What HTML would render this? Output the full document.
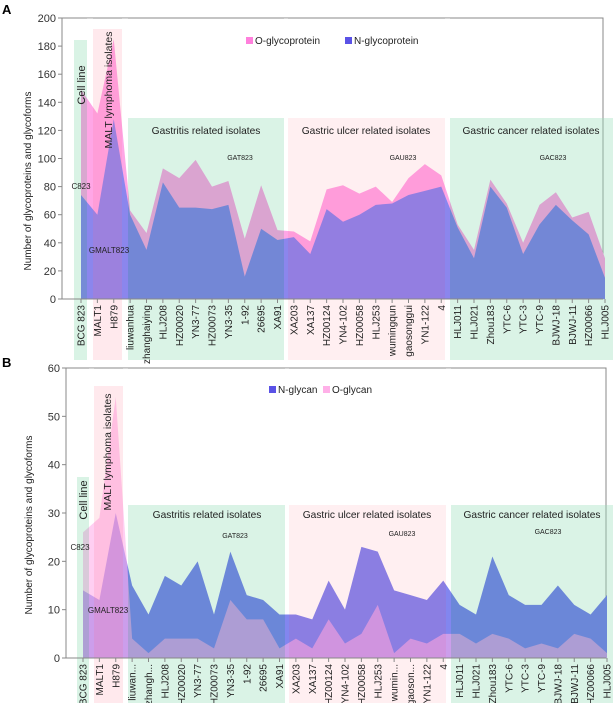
<!DOCTYPE html>
<html><head><meta charset="utf-8"><style>
html,body{margin:0;padding:0;background:#fff;}
svg{display:block;font-family:"Liberation Sans",sans-serif;}
</style></head><body>
<svg id="chart" width="613" height="703" viewBox="0 0 613 703" xmlns="http://www.w3.org/2000/svg"></svg>
<script>
const categories=["BCG 823","MALT1","H879","liuwanhua","zhanghaiying","HLJ208","HZ00020","YN3-77","HZ00073","YN3-35","1-92","26695","XA91","XA203","XA137","HZ00124","YN4-102","HZ00058","HLJ253","wumingqun","gaosonggui","YN1-122","4","HLJ011","HLJ021","Zhou183","YTC-6","YTC-3","YTC-9","BJWJ-18","BJWJ-11","HZ00066","HLJ005"];
const categoriesB=["BCG 823","MALT1","H879","liuwan...","zhangh...","HLJ208","HZ00020","YN3-77","HZ00073","YN3-35","1-92","26695","XA91","XA203","XA137","HZ00124","YN4-102","HZ00058","HLJ253","wumin...","gaoson...","YN1-122","4","HLJ011","HLJ021","Zhou183","YTC-6","YTC-3","YTC-9","BJWJ-18","BJWJ-11","HZ00066","HLJ005"];
const oGlycoprotein=[149,132,185,63,47,93,86,99,80,84,43,81,49,48,41,78,81,75,80,69,86,96,88,53,35,85,68,40,67,76,58,62,29];
const nGlycoprotein=[74,60,128,60,35,83,65,65,64,67,16,50,42,44,32,64,55,60,67,68,74,77,80,51,29,80,65,32,53,67,56,46,15];
const nGlycan=[14,12,30,15,9,17,15,20,9,22,13,12,9,9,8,16,10,23,22,14,13,12,16,11,9,21,13,11,11,15,11,9,13];
const oGlycan=[26,29,54,4,1,4,4,4,2,12,8,8,2,4,2,8,3,5,11,1,4,3,5,5,3,5,4,2,3,2,5,4,1];
const ticksA=[0,20,40,60,80,100,120,140,160,180,200];
const ticksB=[0,10,20,30,40,50,60];

const svg=document.getElementById('chart');
const NS='http://www.w3.org/2000/svg';
function mk(tag,attrs,parent,text){const e=document.createElementNS(NS,tag);for(const k in attrs)e.setAttribute(k,attrs[k]);if(text!==undefined)e.textContent=text;(parent||svg).appendChild(e);return e;}

function panel(cfg){
  const g=mk('g',{});
  
  
  const x=i=>cfg.x0+i*cfg.dx;
  const y=v=>cfg.yb-(v/cfg.ymax)*(cfg.yb-cfg.yt);
  const fr=mk('rect',{x:cfg.left,y:cfg.yt,width:cfg.right-cfg.left,height:cfg.yb-cfg.yt,fill:'none',stroke:'#888','stroke-width':1},g);
  
  
  function area(vals,color,op,name){
    let d='M'+x(0)+','+y(0);
    vals.forEach((v,i)=>{d+=' L'+x(i)+','+y(v);});
    d+=' L'+x(vals.length-1)+','+y(0)+' Z';
    const p=mk('path',{d:d,fill:color,'fill-opacity':op},g);
    
    
  }
  cfg.series.forEach(s=>area(s.vals,s.color,s.op,s.name));
  cfg.bands.forEach(b=>{
    const r=mk('rect',{x:b[0],y:b[2],width:b[1]-b[0],height:cfg.bandBottom-b[2],fill:b[3],'fill-opacity':b[4]},g);
    
    
  });
  // soften gaps between bands so they match band lightness
  for(let k=0;k<cfg.bands.length-1;k++){
    const a=cfg.bands[k],b=cfg.bands[k+1];
    const gr=mk('rect',{x:a[1],y:cfg.yt,width:b[0]-a[1],height:cfg.yb-cfg.yt,fill:'#fff','fill-opacity':0.3},g);
    
    
  }
  const ax=mk('line',{x1:cfg.left,y1:cfg.yt,x2:cfg.left,y2:cfg.yb,stroke:'#888'},g);
  
  
  mk('line',{x1:cfg.left,y1:cfg.yb,x2:cfg.right,y2:cfg.yb,stroke:'#888'},g);
  cfg.ticks.forEach(t=>{
    mk('line',{x1:cfg.left-4,y1:y(t),x2:cfg.left,y2:y(t),stroke:'#888'},g);
    const tl=mk('text',{x:cfg.left-6,y:y(t)+4,'text-anchor':'end','font-size':11,fill:'#333'},g,String(t));
    
    
  });
  cfg.cats.forEach((c,i)=>{
    mk('line',{x1:x(i),y1:cfg.yb,x2:x(i),y2:cfg.yb+4,stroke:'#888'},g);
    const t=mk('text',{x:0,y:0,transform:'translate('+(x(i)+3.5)+','+(cfg.yb+6)+') rotate(-90)','text-anchor':'end','font-size':10,fill:'#222'},g,c);
    
    
  });
  return g;
}

panel({name:'panel-a',x0:81,dx:16.375,yt:18,yb:299,ymax:200,left:62,right:603,bandBottom:360,cats:categories,ticks:ticksA,
  series:[{vals:oGlycoprotein,color:'#ff80dc',op:1,name:'o-glycoprotein-area'},{vals:nGlycoprotein,color:'#5a52e6',op:1,name:'n-glycoprotein-area'}],
  bands:[[74,87,40,'#9fe0bd',0.4,'cell-line-band'],[93,122,29,'#ffc8d2',0.4,'malt-band'],[128,284,118,'#9fe0bd',0.38,'gastritis-band'],[288,445,118,'#ffd0d8',0.35,'ulcer-band'],[450,613,118,'#9fe0bd',0.38,'cancer-band']]});
panel({name:'panel-b',x0:83,dx:16.375,yt:368,yb:658,ymax:60,left:66,right:606,bandBottom:703,cats:categoriesB,ticks:ticksB,
  series:[{vals:nGlycan,color:'#4d52e8',op:1,name:'n-glycan-area'},{vals:oGlycan,color:'#ff8ce0',op:0.6,name:'o-glycan-area'}],
  bands:[[77,89,477,'#9fe0bd',0.4,'cell-line-band'],[94,123,386,'#ffc8d2',0.4,'malt-band'],[128,285,505,'#9fe0bd',0.38,'gastritis-band'],[289,446,505,'#ffd0d8',0.35,'ulcer-band'],[451,613,505,'#9fe0bd',0.38,'cancer-band']]});
</script>
<script>
(function(){
const svg=document.getElementById('chart');
const NS='http://www.w3.org/2000/svg';
function t(x,y,s,size,name,extra){const e=document.createElementNS(NS,'text');e.setAttribute('x',x);e.setAttribute('y',y);e.setAttribute('font-size',size);e.setAttribute('fill','#222');if(extra)for(const k in extra)e.setAttribute(k,extra[k]);e.textContent=s;svg.appendChild(e);return e;}
function sq(x,y,c,name){const r=document.createElementNS(NS,'rect');r.setAttribute('x',x);r.setAttribute('y',y);r.setAttribute('width',7);r.setAttribute('height',7);r.setAttribute('fill',c);svg.appendChild(r);}
t(2,14,'A',13,'panel-a-label',{'font-weight':'bold','fill':'#000'});
t(2,367,'B',13,'panel-b-label',{'font-weight':'bold','fill':'#000'});
t(0,0,'Number of glycoproteins and glycoforms',10,'y-axis-title-a',{transform:'translate(31,181) rotate(-90)','text-anchor':'middle'});
t(0,0,'Number of glycoproteins and glycoforms',10,'y-axis-title-b',{transform:'translate(32,525) rotate(-90)','text-anchor':'middle'});
sq(246,37,'#ff80dc','legend-swatch-o-glycoprotein');t(255,44,'O-glycoprotein',10,'legend-entry-o-glycoprotein');
sq(345,37,'#5a52e6','legend-swatch-n-glycoprotein');t(354,44,'N-glycoprotein',10,'legend-entry-n-glycoprotein');
sq(269,386,'#5a52e6','legend-swatch-n-glycan');t(278,393,'N-glycan',10,'legend-entry-n-glycan');
sq(323,386,'#ffb0e8','legend-swatch-o-glycan');t(332,393,'O-glycan',10,'legend-entry-o-glycan');
t(206,134,'Gastritis related isolates',10.2,'gastritis-title-a',{'text-anchor':'middle'});
t(366,134,'Gastric ulcer related isolates',10.2,'ulcer-title-a',{'text-anchor':'middle'});
t(531,134,'Gastric cancer related isolates',10.2,'cancer-title-a',{'text-anchor':'middle'});
t(240,160,'GAT823',7,'gat823-label-a',{'text-anchor':'middle'});
t(403,160,'GAU823',7,'gau823-label-a',{'text-anchor':'middle'});
t(553,160,'GAC823',7,'gac823-label-a',{'text-anchor':'middle'});
t(81,189,'C823',8,'c823-label-a',{'text-anchor':'middle'});
t(109,253,'GMALT823',8,'gmalt823-label-a',{'text-anchor':'middle'});
t(0,0,'Cell line',11,'cell-line-title-a',{transform:'translate(85,85) rotate(-90)','text-anchor':'middle'});
t(0,0,'MALT lymphoma isolates',10.5,'malt-title-a',{transform:'translate(112,90) rotate(-90)','text-anchor':'middle'});
t(207,518,'Gastritis related isolates',10.2,'gastritis-title-b',{'text-anchor':'middle'});
t(367,518,'Gastric ulcer related isolates',10.2,'ulcer-title-b',{'text-anchor':'middle'});
t(532,518,'Gastric cancer related isolates',10.2,'cancer-title-b',{'text-anchor':'middle'});
t(235,538,'GAT823',7,'gat823-label-b',{'text-anchor':'middle'});
t(402,536,'GAU823',7,'gau823-label-b',{'text-anchor':'middle'});
t(548,534,'GAC823',7,'gac823-label-b',{'text-anchor':'middle'});
t(80,550,'C823',8,'c823-label-b',{'text-anchor':'middle'});
t(108,613,'GMALT823',8,'gmalt823-label-b',{'text-anchor':'middle'});
t(0,0,'Cell line',11,'cell-line-title-b',{transform:'translate(87,500) rotate(-90)','text-anchor':'middle'});
t(0,0,'MALT lymphoma isolates',10.5,'malt-title-b',{transform:'translate(111,452) rotate(-90)','text-anchor':'middle'});
})();
</script>
</body></html>
